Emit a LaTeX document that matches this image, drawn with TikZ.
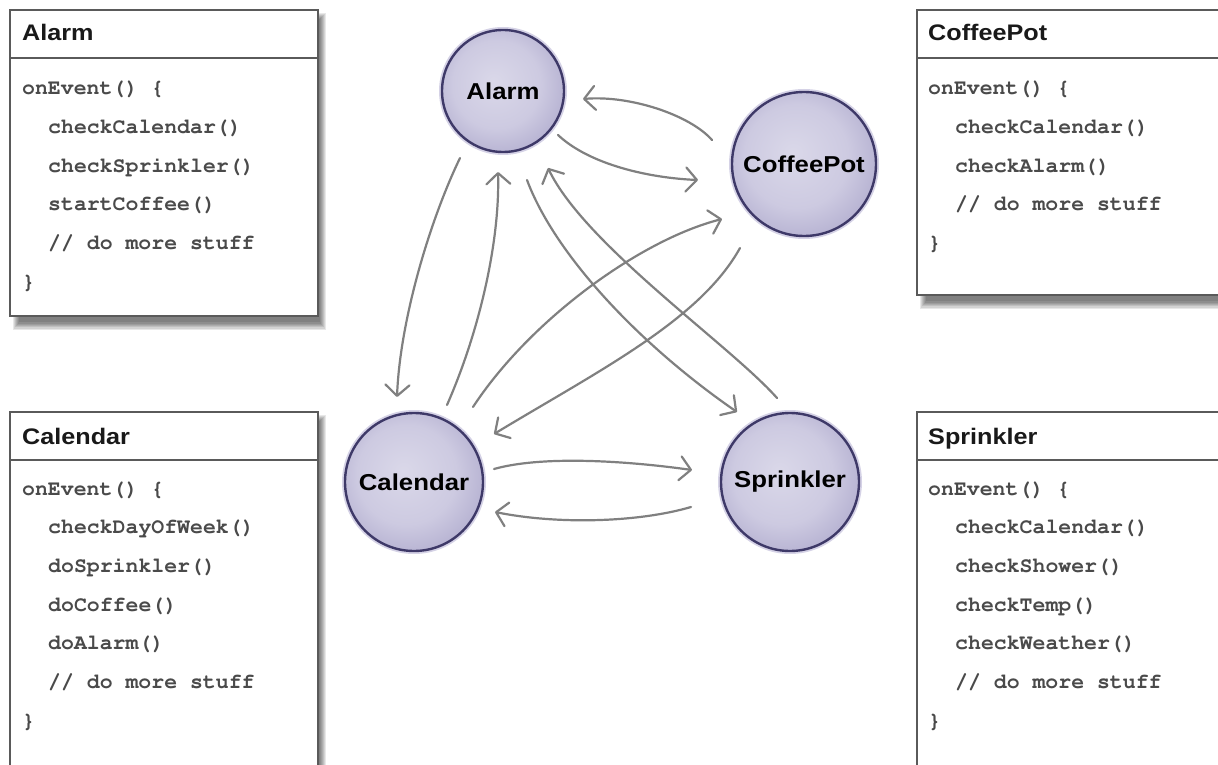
\documentclass[tikz,border=0pt]{standalone}
\usepackage[T1]{fontenc}
\usepackage{fontspec}
\setmainfont{Liberation Sans}
\newfontfamily\titlefont[FakeStretch=1.12]{Liberation Sans}
\newcommand\courcode{\fontencoding{T1}\fontfamily{pcr}\fontseries{b}\selectfont}
\usetikzlibrary{arrows.meta}
\definecolor{arrowgray}{HTML}{808080}
\definecolor{boxline}{HTML}{5A5A5A}
\definecolor{codecol}{HTML}{4A4A4A}
\definecolor{ringcol}{HTML}{3E3968}
\definecolor{halocol}{HTML}{C4C0DC}
\definecolor{sc0}{HTML}{DAD8E9}
\definecolor{sc1}{HTML}{CDCAE1}
\definecolor{sc2}{HTML}{A39EC5}
\definecolor{sc3}{HTML}{7A74A6}
\definecolor{sc4}{HTML}{524C80}
\pgfdeclareradialshading{sphere}{\pgfpoint{-4bp}{4bp}}{color(0bp)=(sc0); color(18bp)=(sc1); color(37bp)=(sc2); color(47bp)=(sc3); color(54bp)=(sc4)}
\newcommand\softshadow[4]{%
  \foreach \i in {0,...,6}{\fill[black,opacity=0.09] ({#1+3+\i},{#2+3+\i}) rectangle ({#3+8-\i},{#4+14-1.3*\i});}}
\begin{document}
\begin{tikzpicture}[x=1pt,y=-1pt,
  ball/.style={circle, minimum size=#1, inner sep=0pt, shading=sphere,
    draw=ringcol, line width=2.4pt,
    font=\titlefont\bfseries\fontsize{23}{23}\selectfont},
  halo/.style={fill=halocol, opacity=0.7},
  boxframe/.style={draw=boxline, line width=1.4pt, fill=white},
  title/.style={anchor=base west, inner sep=0pt, text=black!90,
    font=\titlefont\bfseries\fontsize{22.5}{22.5}\selectfont},
  code/.style={anchor=base west, inner sep=0pt, text=codecol,
    font=\courcode\fontsize{21.5}{21.5}\selectfont},
  conn/.style={draw=arrowgray, line width=2.2pt, line cap=round,
    -{Straight Barb[length=11pt,width=24pt,round]}}]
\useasboundingbox (0,0) rectangle (1218,765);
\clip (0,0) rectangle (1218,765);
\fill[white] (0,0) rectangle (1218,765);

% ---------- boxes ----------
\softshadow{10}{10}{318}{316}
\draw[boxframe] (10,10) rectangle (318,316);
\draw[boxline, line width=1.4pt] (10,58) -- (318,58);
\node[title] (t-alarm) at (22,41) {Alarm};
\node[code] (alarm-0) at (22,95) {onEvent() \{};
\foreach \t [count=\i] in {checkCalendar(),checkSprinkler(),startCoffee(),// do more stuff}
  \node[code] (alarm-\i) at (48,{95+38.6*\i}) {\t};
\node[code] (alarm-5) at (22,{95+38.6*5}) {\}};

\softshadow{917}{10}{1240}{295}
\draw[boxframe] (917,10) rectangle (1240,295);
\draw[boxline, line width=1.4pt] (917,58) -- (1240,58);
\node[title] (t-coffee) at (928,41) {CoffeePot};
\node[code] (coffee-0) at (928,95) {onEvent() \{};
\foreach \t [count=\i] in {checkCalendar(),checkAlarm(),// do more stuff}
  \node[code] (coffee-\i) at (955,{95+38.6*\i}) {\t};
\node[code] (coffee-4) at (928,{95+38.6*4}) {\}};

\softshadow{10}{412}{318}{800}
\draw[boxframe] (10,412) rectangle (318,800);
\draw[boxline, line width=1.4pt] (10,460) -- (318,460);
\node[title] (t-calendar) at (22,444) {Calendar};
\node[code] (cal-0) at (22,495) {onEvent() \{};
\foreach \t [count=\i] in {checkDayOfWeek(),doSprinkler(),doCoffee(),doAlarm(),// do more stuff}
  \node[code] (cal-\i) at (48,{495+38.7*\i}) {\t};
\node[code] (cal-6) at (22,{495+38.7*6}) {\}};

\softshadow{917}{412}{1240}{800}
\draw[boxframe] (917,412) rectangle (1240,800);
\draw[boxline, line width=1.4pt] (917,460) -- (1240,460);
\node[title] (t-sprinkler) at (928,444) {Sprinkler};
\node[code] (spr-0) at (928,495) {onEvent() \{};
\foreach \t [count=\i] in {checkCalendar(),checkShower(),checkTemp(),checkWeather(),// do more stuff}
  \node[code] (spr-\i) at (955,{495+38.7*\i}) {\t};
\node[code] (spr-6) at (928,{495+38.7*6}) {\}};

% ---------- circles ----------
\fill[halo] (503,91) circle (64);
\fill[halo] (804,164) circle (75);
\fill[halo] (414,482) circle (72);
\fill[halo] (790,482) circle (72);
\node[ball=122] (alarm) at (503,91) {Alarm};
\node[ball=144] (coffee) at (804,164) {CoffeePot};
\node[ball=138] (calendar) at (414,482) {Calendar};
\node[ball=138] (sprinkler) at (790,482) {Sprinkler};

% ---------- connector end points ----------
\coordinate (ac-s) at (460,158);  \coordinate (ac-e) at (397,397);
\coordinate (ca-s) at (447,405);  \coordinate (ca-e) at (498,172);
\coordinate (ck-s) at (473,407);  \coordinate (ck-e) at (722,219);
\coordinate (kc-s) at (740,248);  \coordinate (kc-e) at (494,434);
\coordinate (as-s) at (527,180);  \coordinate (as-e) at (737,412);
\coordinate (sa-s) at (777,398);  \coordinate (sa-e) at (548,168);
\coordinate (ak-s) at (558,135);  \coordinate (ak-e) at (698,180);
\coordinate (ka-s) at (712,140);  \coordinate (ka-e) at (583,99);
\coordinate (cs-s) at (494,469);  \coordinate (cs-e) at (692,470);
\coordinate (sc-s) at (691,507);  \coordinate (sc-e) at (495,512);

\draw[conn] (ac-s) .. controls (430,220) and (400,320) .. (ac-e);
\draw[conn] (ca-s) .. controls (480,330) and (500,240) .. (ca-e);
\draw[conn] (ck-s) .. controls (530,320) and (640,240) .. (ck-e);
\draw[conn] (kc-s) .. controls (700,320) and (600,370) .. (kc-e);
\draw[conn] (as-s) .. controls (555,255) and (640,345) .. (as-e);
\draw[conn] (sa-s) .. controls (730,345) and (585,245) .. (sa-e);
\draw[conn] (ak-s) .. controls (590,165) and (650,178) .. (ak-e);
\draw[conn] (ka-s) .. controls (690,115) and (630,95) .. (ka-e);
\draw[conn] (cs-s) .. controls (540,456) and (620,460) .. (cs-e);
\draw[conn] (sc-s) .. controls (640,522) and (560,525) .. (sc-e);
\end{tikzpicture}
\end{document}
